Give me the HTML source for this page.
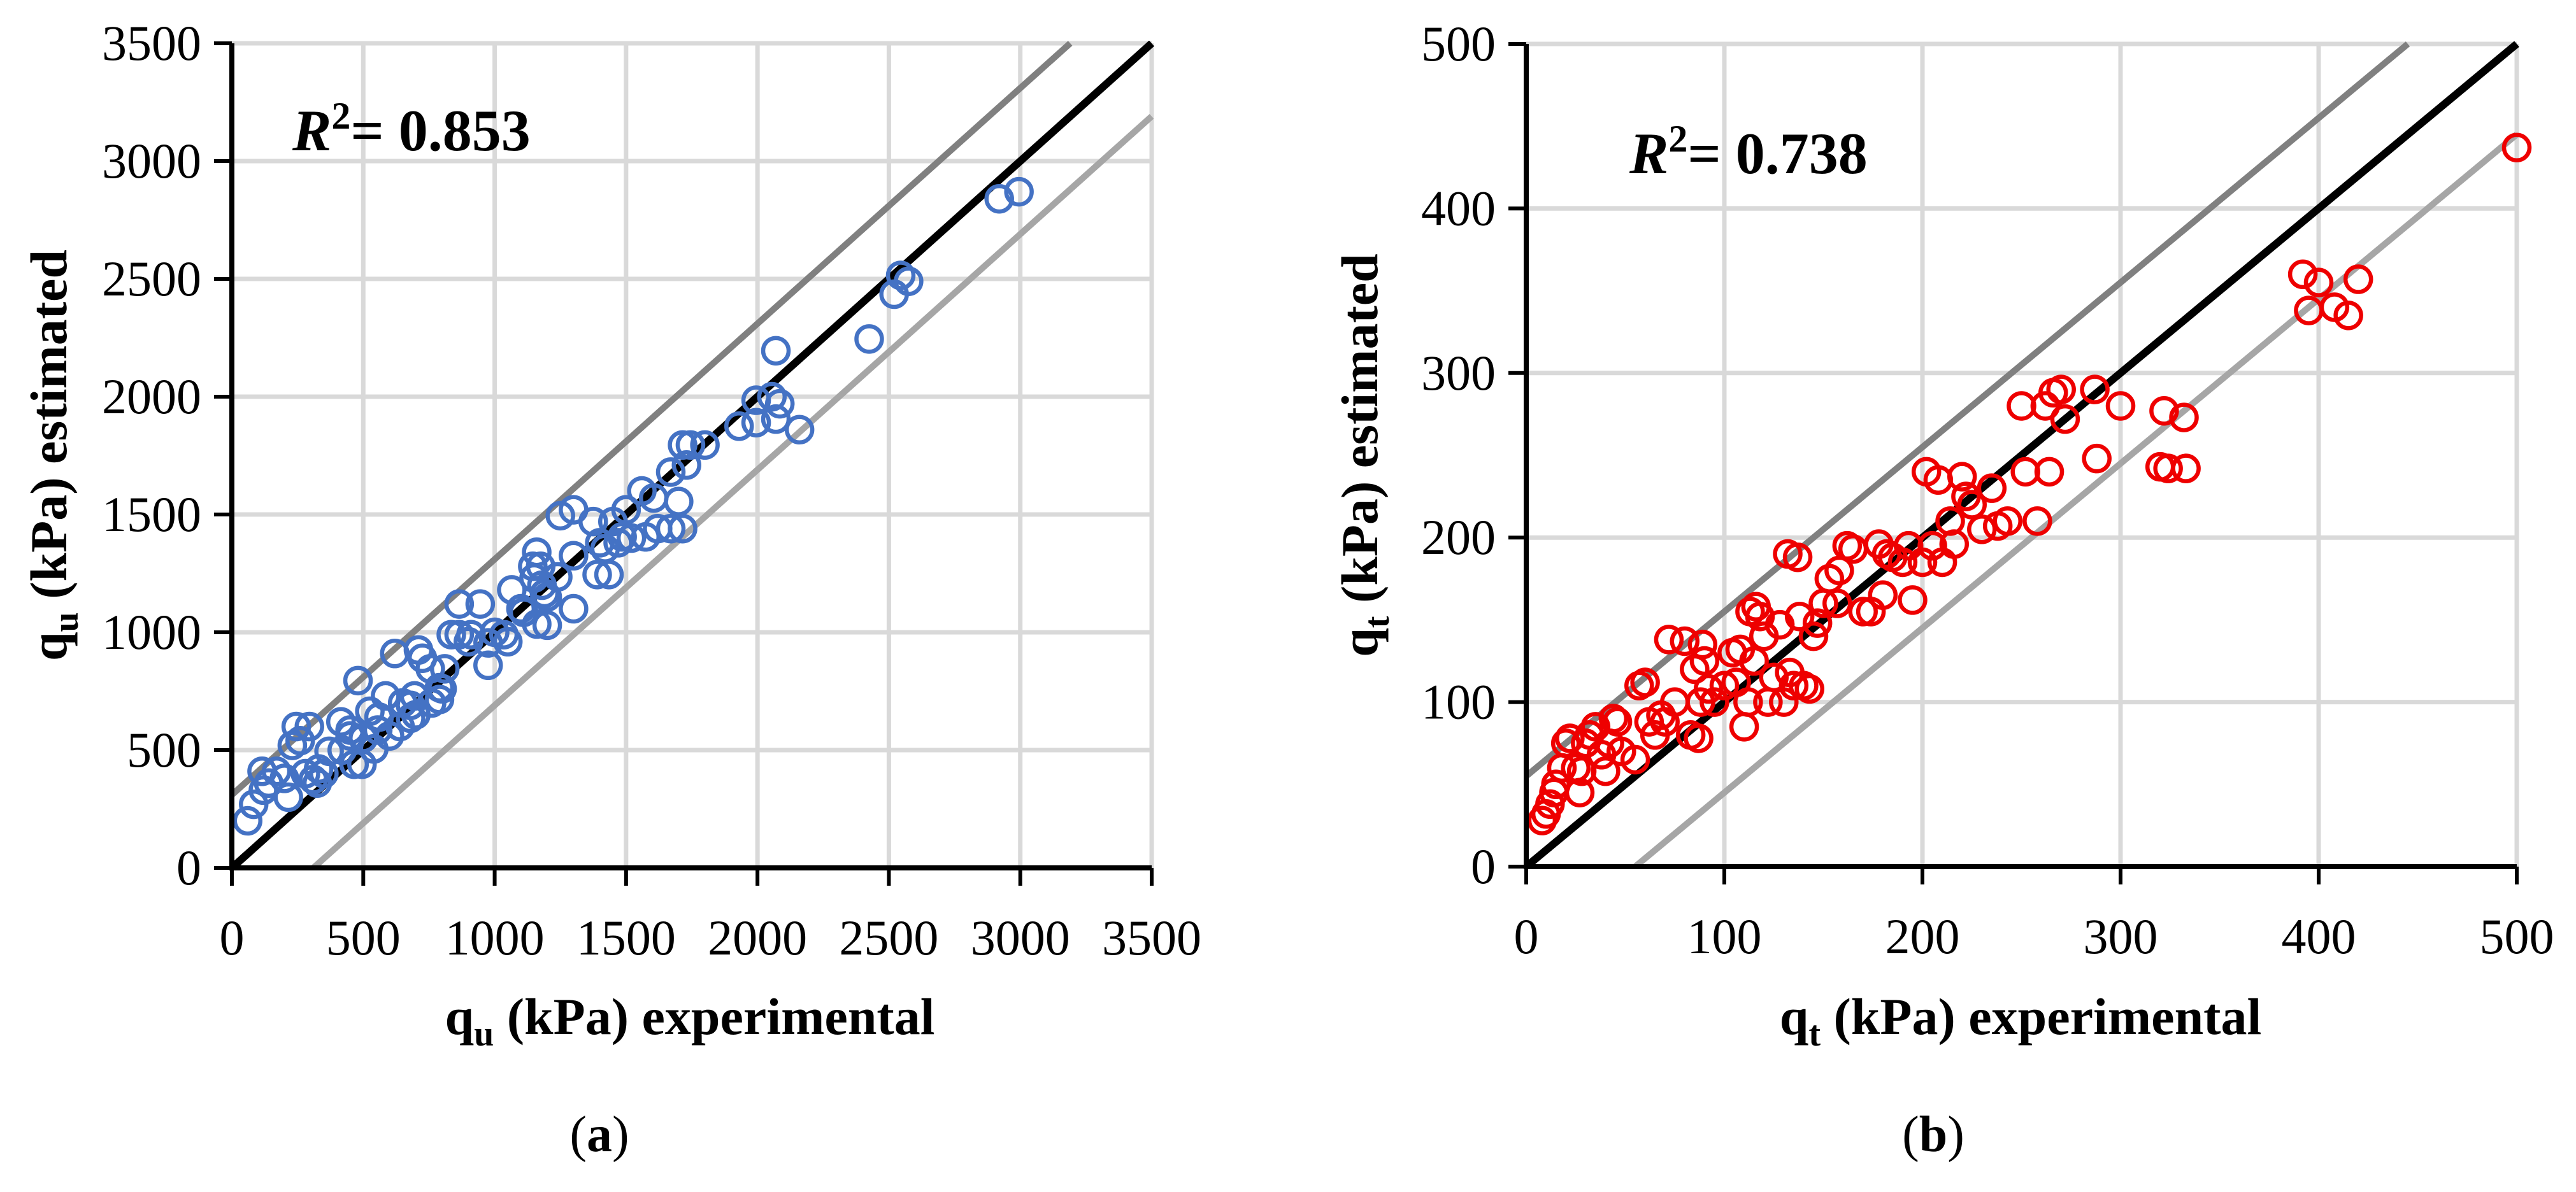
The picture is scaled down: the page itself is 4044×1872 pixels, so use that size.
<!DOCTYPE html>
<html><head><meta charset="utf-8"><style>
html,body{margin:0;padding:0;background:#fff}
svg{display:block}
text{font-family:"Liberation Serif",serif;fill:#000}
</style></head><body>
<svg id="fig" width="4044" height="1872" viewBox="0 0 4044 1872" xmlns="http://www.w3.org/2000/svg">
<g id="chartA"></g>
<g id="chartB"></g>
</svg>
<script>
// Chart (a) data
const aTicks = [0,500,1000,1500,2000,2500,3000,3500];
const aExp = [60,83,115,140,170,215,230,245,295,260,310,325,370,415,450,465,480,495,525,540,555,585,620,650,680,695,725,710,755,790,790,810,835,865,865,910,945,975,975,1035,1065,1110,1145,1160,1160,1175,1190,1250,1300,1300,1300,1375,1390,1420,1435,1450,1485,1500,1560,1575,1605,1620,1670,1670,1700,1715,1730,1715,1745,1800,1930,1995,1995,2055,2070,2070,2085,2160,2425,2520,2545,2575,2920,2995,1200,1240,1000,1050,1400,1470,1520,1150,1180,640,700,760,800,900,600,500,350,280,420,1100,1200,120,200,330,450,560,680];
const aEst = [200,270,410,360,410,300,520,600,600,540,375,360,495,620,585,440,795,440,665,505,585,730,910,700,635,730,890,925,845,765,715,845,990,990,1120,990,1120,955,860,990,1180,1085,1280,1340,1035,1280,1165,1495,1520,1325,1100,1470,1245,1355,1245,1470,1405,1520,1600,1405,1570,1440,1440,1680,1555,1795,1710,1440,1795,1795,1875,1985,1890,2000,1905,2195,1970,1860,2245,2435,2515,2490,2840,2870,1030,1235,1000,960,1380,1380,1400,1230,1200,600,650,700,760,960,560,550,400,400,500,1100,1150,330,380,420,560,640,690];
// Chart (b) data
const bTicks = [0,100,200,300,400,500];
const bExp = [8,10,12,14,15,18,20,22,25,27,28,30,32,35,38,40,42,44,46,48,55,57,60,62,65,68,70,72,75,80,83,85,87,88,89,90,92,95,100,104,106,108,110,112,113,115,116,118,120,122,125,128,130,132,133,135,137,138,140,143,145,147,150,153,157,158,162,165,170,174,178,180,182,185,190,193,195,200,202,205,208,210,214,216,220,222,225,230,235,238,243,250,252,258,262,264,266,270,272,287,288,300,320,322,324,332,333,392,395,400,408,415,420,500];
const bEst = [28,32,38,45,50,60,75,78,60,45,58,75,80,85,68,58,75,90,88,70,65,110,112,88,80,92,88,138,100,137,80,120,78,100,135,125,108,100,110,130,112,132,85,100,155,125,158,152,140,100,115,147,100,190,118,110,188,152,110,108,140,148,160,175,160,180,195,193,155,155,196,165,190,188,185,195,162,185,240,195,235,185,210,196,237,225,220,205,230,207,210,280,240,210,280,240,288,290,272,290,248,280,243,277,242,273,242,360,338,355,340,335,357,437];

const NS='http://www.w3.org/2000/svg';
function mk(parent,tag,attrs,txt){const e=document.createElementNS(NS,tag);for(const k in attrs)e.setAttribute(k,attrs[k]);if(txt!==undefined)e.textContent=txt;parent.appendChild(e);return e;}

function drawChart(g,cfg){
  const {L,R,T,B,max,ticks,xs,ys,color,off,prefix}=cfg;
  const sx=v=>L+(v/max)*(R-L);
  const sy=v=>B-(v/max)*(B-T);
  const clip=mk(g,'clipPath',{id:prefix+'clip'});
  mk(clip,'rect',{x:L,y:T-4,width:R-L+4,height:B-T+4});
  ticks.forEach(t=>{
    if(t>0){
      const gv=mk(g,'line',{x1:sx(t),x2:sx(t),y1:T,y2:B,stroke:'#d9d9d9','stroke-width':7});
      
      
      const gh=mk(g,'line',{x1:L,x2:R,y1:sy(t),y2:sy(t),stroke:'#d9d9d9','stroke-width':7});
      
      
    }
  });
  const lg=mk(g,'g',{'clip-path':'url(#'+prefix+'clip)'});
  const up=mk(lg,'line',{x1:sx(0),y1:sy(off),x2:sx(max-off),y2:sy(max),stroke:'#808080','stroke-width':10});
  
  
  const lo=mk(lg,'line',{x1:sx(off),y1:sy(0),x2:sx(max),y2:sy(max-off),stroke:'#a6a6a6','stroke-width':10});
  
  
  const eq=mk(lg,'line',{x1:sx(0),y1:sy(0),x2:sx(max),y2:sy(max),stroke:'#000','stroke-width':12});
  
  
  xs.forEach((x,i)=>{
    const c=mk(g,'circle',{cx:sx(x),cy:sy(ys[i]),r:20,fill:'none',stroke:color,'stroke-width':6.5});
    
    
  });
  const ya=mk(g,'line',{x1:L,x2:L,y1:T,y2:B+4,stroke:'#000','stroke-width':8});
  
  
  const xa=mk(g,'line',{x1:L-4,x2:R,y1:B,y2:B,stroke:'#000','stroke-width':8});
  
  
  ticks.forEach(t=>{
    const tx=mk(g,'line',{x1:sx(t),x2:sx(t),y1:B,y2:B+28,stroke:'#000','stroke-width':6});
    
    
    const ty=mk(g,'line',{x1:L-28,x2:L,y1:sy(t),y2:sy(t),stroke:'#000','stroke-width':6});
    
    
    const lx=mk(g,'text',{x:sx(t),y:B+136,'font-size':78,'text-anchor':'middle'},String(t));
    
    
    const ly=mk(g,'text',{x:L-48,y:sy(t)+26,'font-size':78,'text-anchor':'end'},String(t));
    
    
  });
}

drawChart(document.getElementById('chartA'),{L:364,R:1808,T:68,B:1363,max:3500,ticks:aTicks,xs:aExp,ys:aEst,color:'#4472c4',off:310,prefix:'a'});
drawChart(document.getElementById('chartB'),{L:2396,R:3951,T:69,B:1361,max:500,ticks:bTicks,xs:bExp,ys:bEst,color:'#ee0000',off:55,prefix:'b'});
</script>
<div style="position:absolute;left:0;top:0;width:4044px;height:1872px;pointer-events:none">
<svg width="4044" height="1872" viewBox="0 0 4044 1872" xmlns="http://www.w3.org/2000/svg">
<text x="459" y="236" font-size="92" font-weight="bold"><tspan font-style="italic">R</tspan><tspan dy="-34" font-size="60">2</tspan><tspan dy="34">= 0.853</tspan></text>
<text x="2558" y="272" font-size="92" font-weight="bold"><tspan font-style="italic">R</tspan><tspan dy="-34" font-size="60">2</tspan><tspan dy="34">= 0.738</tspan></text>
<text x="1083" y="1624" font-size="82" font-weight="bold" text-anchor="middle">q<tspan dy="18" font-size="56">u</tspan><tspan dy="-18"> (kPa) experimental</tspan></text>
<text x="3172" y="1624" font-size="82" font-weight="bold" text-anchor="middle">q<tspan dy="18" font-size="56">t</tspan><tspan dy="-18"> (kPa) experimental</tspan></text>
<text transform="translate(104,715) rotate(-90)" font-size="82" font-weight="bold" text-anchor="middle">q<tspan dy="18" font-size="56">u</tspan><tspan dy="-18"> (kPa) estimated</tspan></text>
<text transform="translate(2162,715) rotate(-90)" font-size="82" font-weight="bold" text-anchor="middle">q<tspan dy="18" font-size="56">t</tspan><tspan dy="-18"> (kPa) estimated</tspan></text>
<text x="941" y="1808" font-size="80" text-anchor="middle">(<tspan font-weight="bold">a</tspan>)</text>
<text x="3035" y="1808" font-size="80" text-anchor="middle">(<tspan font-weight="bold">b</tspan>)</text>
</svg></div>
</body></html>
